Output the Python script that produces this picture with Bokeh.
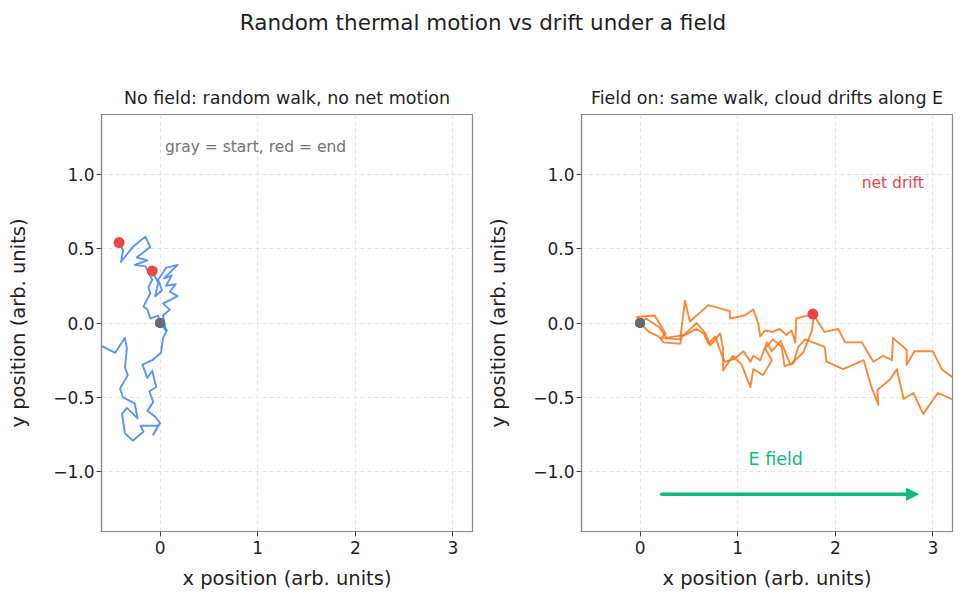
from bokeh.plotting import figure
from bokeh.layouts import column, row
from bokeh.models import Range1d, FixedTicker, Label, Arrow, NormalHead, ColumnDataSource
from bokeh.embed import file_html
from bokeh.resources import INLINE
from bokeh.core.properties import value

FONT = "DejaVu Sans"
TEXT = "#1f1f1f"

# axis ticks
x_ticks = [0, 1, 2, 3]
x_tick_labels = ["0", "1", "2", "3"]
y_ticks = [-1.0, -0.5, 0.0, 0.5, 1.0]
y_tick_labels = ["\u22121.0", "\u22120.5", "0.0", "0.5", "1.0"]

# walks with no applied field (three particles)
nf1_x = [0.00, -0.02, -0.10, -0.13, -0.17, -0.10, -0.12, -0.08, -0.15, -0.26, -0.13, -0.24, -0.10, -0.15, -0.28, -0.34, -0.40, -0.38, -0.42]
nf1_y = [0.00, 0.05, 0.03, 0.09, 0.11, 0.20, 0.24, 0.29, 0.38, 0.39, 0.42, 0.44, 0.51, 0.58, 0.51, 0.46, 0.41, 0.49, 0.54]
nf2_x = [0.00, 0.06, 0.03, 0.10, 0.03, 0.18, 0.10, 0.16, 0.06, 0.12, 0.04, 0.18, 0.06, -0.02, 0.02, -0.05, -0.02, -0.08]
nf2_y = [0.00, -0.05, 0.05, 0.09, 0.13, 0.18, 0.21, 0.26, 0.25, 0.32, 0.30, 0.39, 0.37, 0.29, 0.22, 0.18, 0.27, 0.35]
nf3_x = [0.00, 0.07, 0.03, 0.01, -0.08, -0.18, -0.13, -0.08, -0.04, -0.11, -0.07, -0.13, -0.05, 0.00, -0.07, -0.02, -0.20, -0.17, -0.28, -0.36, -0.39, -0.34, -0.23, -0.26, -0.38, -0.41, -0.33, -0.36, -0.34, -0.36, -0.46, -0.58, -0.70, -0.82]
nf3_y = [0.00, -0.05, -0.10, -0.20, -0.25, -0.28, -0.37, -0.32, -0.43, -0.46, -0.53, -0.59, -0.63, -0.67, -0.75, -0.69, -0.69, -0.73, -0.79, -0.74, -0.61, -0.57, -0.64, -0.54, -0.50, -0.44, -0.35, -0.30, -0.17, -0.10, -0.20, -0.16, -0.13, -0.18]

# walks with the field switched on
wf1_x = [0.00, -0.03, 0.15, 0.26, 0.22, 0.41, 0.46, 0.51, 0.70, 0.92, 0.92, 1.07, 1.16, 1.21, 1.23, 1.28, 1.36, 1.43, 1.50, 1.55, 1.59, 1.60, 1.77]
wf1_y = [0.00, 0.04, 0.05, -0.07, -0.10, -0.11, 0.15, 0.01, 0.12, 0.08, 0.03, 0.05, 0.09, 0.00, -0.09, -0.05, -0.06, -0.04, -0.08, -0.05, -0.13, 0.03, 0.06]
wf2_x = [0.00, 0.09, 0.19, 0.24, 0.41, 0.43, 0.58, 0.65, 0.70, 0.77, 0.80, 0.84, 0.87, 0.97, 1.06, 1.13, 1.16, 1.23, 1.30, 1.35, 1.44, 1.54, 1.67, 1.76, 1.78, 1.81, 1.89, 2.03, 2.10, 2.27, 2.39, 2.49, 2.58, 2.59, 2.73, 2.73, 2.81, 3.00, 3.09, 3.19, 3.30]
wf2_y = [0.00, -0.06, -0.09, -0.13, -0.14, -0.09, -0.04, -0.07, -0.14, -0.09, -0.15, -0.22, -0.26, -0.24, -0.19, -0.26, -0.22, -0.25, -0.13, -0.19, -0.12, -0.28, -0.20, -0.05, 0.05, 0.02, -0.06, -0.04, -0.13, -0.13, -0.26, -0.22, -0.25, -0.10, -0.18, -0.28, -0.19, -0.19, -0.31, -0.36, -0.42]
wf3_x = [0.00, 0.06, 0.20, 0.27, 0.45, 0.58, 0.67, 0.72, 0.82, 0.85, 0.85, 0.95, 1.04, 1.13, 1.16, 1.26, 1.35, 1.28, 1.36, 1.45, 1.48, 1.57, 1.62, 1.69, 1.89, 1.91, 2.08, 2.29, 2.37, 2.44, 2.43, 2.56, 2.63, 2.70, 2.80, 2.90, 3.05, 3.19, 3.30]
wf3_y = [0.00, 0.03, -0.03, -0.10, -0.08, 0.00, -0.07, -0.15, -0.07, -0.17, -0.32, -0.22, -0.28, -0.43, -0.31, -0.35, -0.25, -0.17, -0.11, -0.16, -0.29, -0.27, -0.16, -0.11, -0.16, -0.26, -0.31, -0.25, -0.43, -0.55, -0.45, -0.38, -0.31, -0.51, -0.47, -0.61, -0.47, -0.51, -0.55]

# field arrow and its caption
field_arrow_x = [0.22, 2.85]
field_arrow_y = -1.15

BLUE = "#3b82f6"
ORANGE = "#f97316"
RED = "#ef4444"
GRAY = "#646b78"
GREEN = "#10b981"


def panel(title, walks_x, walks_y, color, min_left, min_right):
    p = figure(width=min_left + 371 + min_right, height=545,
               frame_width=371, frame_height=417,
               x_range=Range1d(-0.6, 3.2), y_range=Range1d(-1.4, 1.4),
               output_backend="svg", toolbar_location=None,
               min_border_left=min_left, min_border_right=min_right,
               min_border_top=54, min_border_bottom=74,
               background_fill_color="white", border_fill_color="white")
    p.title.text = title
    p.title.align = "center"
    p.title.text_font = FONT
    p.title.text_font_size = "17.5px"
    p.title.text_font_style = "normal"
    p.title.text_color = TEXT
    p.title.standoff = 13

    p.outline_line_color = "#888888"
    p.outline_line_width = 1.2

    p.xaxis.ticker = FixedTicker(ticks=x_ticks)
    p.xaxis.major_label_overrides = dict(zip(x_ticks, x_tick_labels))
    p.yaxis.ticker = FixedTicker(ticks=y_ticks)
    p.yaxis.major_label_overrides = dict(zip(y_ticks, y_tick_labels))
    p.xaxis.axis_label = "x position (arb. units)"
    p.yaxis.axis_label = "y position (arb. units)"
    for ax in (p.xaxis, p.yaxis):
        ax.axis_line_color = "#888888"
        ax.axis_line_width = 1.2
        ax.major_tick_line_color = "#444444"
        ax.major_tick_out = 5
        ax.major_tick_in = 0
        ax.minor_tick_line_color = None
        ax.major_label_text_font = FONT
        ax.major_label_text_font_size = "17px"
        ax.major_label_text_color = TEXT
        ax.axis_label_text_font = FONT
        ax.axis_label_text_font_size = "19.5px"
        ax.axis_label_text_font_style = "normal"
        ax.axis_label_text_color = TEXT
    p.yaxis.major_label_standoff = 2
    p.yaxis.axis_label_standoff = 20
    p.xaxis.major_label_standoff = 4
    p.xaxis.axis_label_standoff = 10

    p.grid.grid_line_color = "#e3e3e3"
    p.grid.grid_line_dash = "4 3"
    p.grid.grid_line_width = 1

    src = ColumnDataSource(dict(xs=walks_x, ys=walks_y))
    p.multi_line("xs", "ys", source=src, line_color=color, line_width=1.9,
                 line_alpha=0.85, line_join="round")

    starts = ColumnDataSource(dict(x=[w[0] for w in walks_x], y=[w[0] for w in walks_y]))
    ends = ColumnDataSource(dict(x=[w[-1] for w in walks_x], y=[w[-1] for w in walks_y]))
    p.scatter("x", "y", source=starts, size=10, fill_color=GRAY, line_color=None)
    p.scatter("x", "y", source=ends, size=11, fill_color=RED, line_color=None)
    return p


left = panel("No field: random walk, no net motion",
             [nf1_x, nf2_x, nf3_x], [nf1_y, nf2_y, nf3_y], BLUE, 101, 8)
left.add_layout(Label(x=0.05, y=1.185, text="gray = start, red = end",
                      text_font=FONT, text_font_size="15.5px", text_color="#737373",
                      text_baseline="middle"))

right = panel("Field on: same walk, cloud drifts along E",
              [wf1_x, wf2_x, wf3_x], [wf1_y, wf2_y, wf3_y], ORANGE, 101, 13)
right.add_layout(Label(x=2.27, y=0.94, text="net drift",
                       text_font=FONT, text_font_size="15.5px", text_color="#e0474f",
                       text_baseline="middle"))
right.add_layout(Label(x=1.39, y=-0.915, text="E field", text_align="center",
                       text_font=FONT, text_font_size="17.5px", text_color=GREEN,
                       text_baseline="middle"))
right.add_layout(Arrow(end=NormalHead(size=12, fill_color=GREEN, line_color=GREEN),
                       x_start=field_arrow_x[0], y_start=field_arrow_y,
                       x_end=field_arrow_x[1], y_end=field_arrow_y,
                       line_color=GREEN, line_width=3.5, line_cap="round"))

# figure-wide heading
head = figure(width=965, height=60, x_range=Range1d(0, 965), y_range=Range1d(0, 60),
              output_backend="svg", toolbar_location=None,
              x_axis_type=None, y_axis_type=None, min_border=0,
              outline_line_color=None)
head.grid.visible = False
head.text(x=[482.5], y=[38], text=["Random thermal motion vs drift under a field"],
          text_font=value(FONT), text_font_size="21.5px", text_color=TEXT,
          text_align="center", text_baseline="middle")

layout = column(head, row(left, right))
open("out.html", "w").write(file_html(layout, INLINE))
